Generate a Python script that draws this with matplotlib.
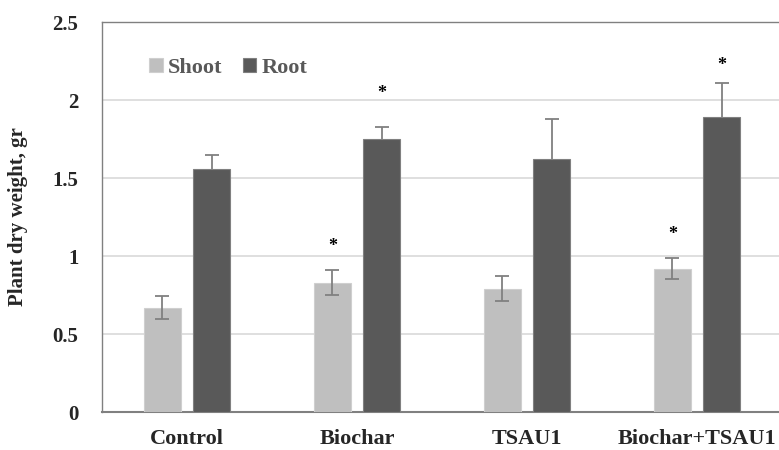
import matplotlib
matplotlib.use('Agg')
import matplotlib.pyplot as plt
import numpy as np

# data
groups = ['Control', 'Biochar', 'TSAU1', 'Biochar+TSAU1']
shoot = [0.67, 0.83, 0.79, 0.92]
shoot_err = [0.075, 0.08, 0.08, 0.065]
root = [1.56, 1.75, 1.62, 1.89]
root_err = [0.09, 0.075, 0.26, 0.22]
# heights of the significance stars (None = no star)
shoot_star = [None, 1.06, None, 1.14]
root_star = [None, 2.04, None, 2.22]
yticks = [0, 0.5, 1, 1.5, 2, 2.5]
ytick_labels = ['0', '0.5', '1', '1.5', '2', '2.5']

plt.rcParams['font.family'] = ['Liberation Serif', 'DejaVu Serif']
plt.rcParams['font.weight'] = 'bold'

fig = plt.figure(figsize=(7.79, 4.5), dpi=100)
ax = fig.add_axes([0.131, 0.0844, 0.873, 0.8666])

x = np.arange(len(groups))
w = 0.22
off = 0.145
ekw = dict(ecolor='#808080', elinewidth=1.3, capsize=5, capthick=1.3, zorder=4)
ekw_root = dict(ekw, zorder=2)
ax.bar(x - off, shoot, w, yerr=shoot_err, color='#bfbfbf', edgecolor='#cfcfcf', lw=0.8,
       label='Shoot', error_kw=ekw, zorder=3)
ax.bar(x + off, root, w, yerr=root_err, color='#595959',
       edgecolor='#808080', lw=0.8, label='Root', error_kw=ekw_root, zorder=3)

# significance marks
for i in range(len(groups)):
    if shoot_star[i] is not None:
        ax.text(x[i] - off, shoot_star[i], '*', ha='center', va='center', fontsize=13, color='black')
    if root_star[i] is not None:
        ax.text(x[i] + off, root_star[i], '*', ha='center', va='center', fontsize=13, color='black')

ax.set_xlim(-0.5, len(groups) - 0.5)
ax.set_ylim(0, 2.5)
ax.set_yticks(yticks)
ax.set_yticklabels(ytick_labels)
ax.set_xticks(x)
ax.set_xticklabels(groups)
ax.tick_params(axis='both', length=0, colors='#262626')
ax.tick_params(axis='y', pad=17, labelsize=15)
ax.tick_params(axis='x', pad=12, labelsize=16)
ax.yaxis.grid(True, color='#d9d9d9', lw=1.2, zorder=0)
ax.set_axisbelow(True)
for s in ['left', 'top', 'right']:
    ax.spines[s].set_color('#808080')
    ax.spines[s].set_linewidth(1.0)
ax.spines['bottom'].set_color('#808080')
ax.spines['bottom'].set_linewidth(1.5)

ax.set_ylabel('Plant dry weight, gr', fontsize=15, fontweight='bold', labelpad=18, color='#262626')

leg = ax.legend(loc='upper left', bbox_to_anchor=(0.04, 0.96), ncol=2, frameon=False,
                fontsize=16, handlelength=0.6, handleheight=0.6, handletextpad=0.25,
                columnspacing=0.9)
for t in leg.get_texts():
    t.set_color('#595959')

fig.savefig('out.png', dpi=100)
